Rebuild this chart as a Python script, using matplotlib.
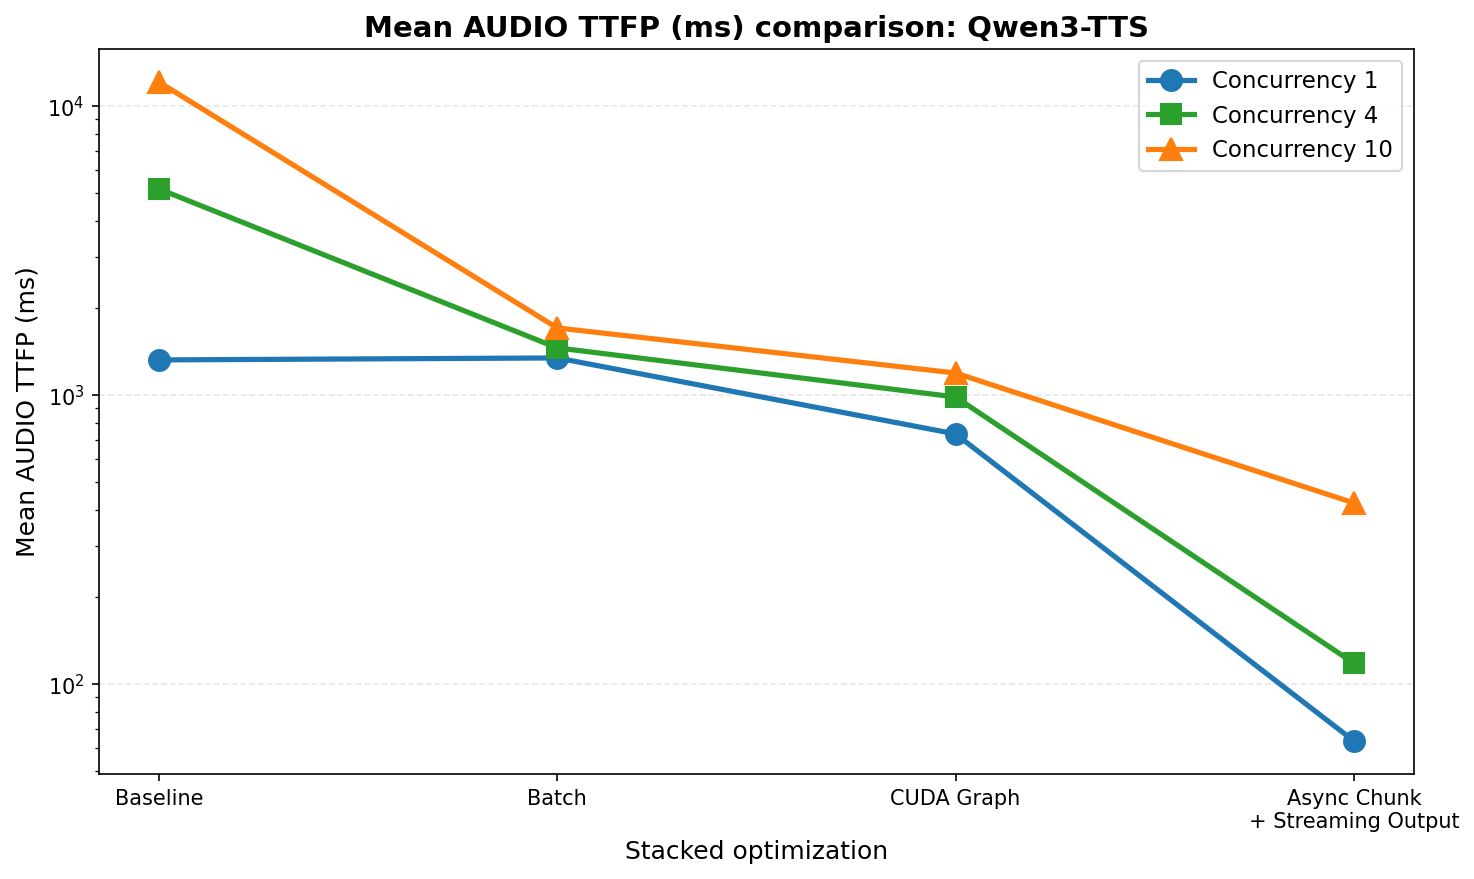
import numpy as np
import matplotlib.pyplot as plt

# ── datos ────────────────────────────────────────────
stages = ["Baseline", "Batch", "CUDA Graph", "Async Chunk\n+ Streaming Output"]

ttfp_c1 = [1322, 1343, 733, 63.5]
ttfp_c4 = [5164, 1455, 984, 118]
ttfp_c10 = [12100, 1706, 1191, 423]

x = np.arange(len(stages))

fig, ax = plt.subplots(figsize=(10, 6))

ax.plot(x, ttfp_c1, marker="o", color="#1f77b4", linewidth=2.5, markersize=10, label="Concurrency 1")
ax.plot(x, ttfp_c4, marker="s", color="#2ca02c", linewidth=2.5, markersize=10, label="Concurrency 4")
ax.plot(x, ttfp_c10, marker="^", color="#ff7f0e", linewidth=2.5, markersize=11, label="Concurrency 10")

ax.set_yscale("log")
ax.set_xticks(x)
ax.set_xticklabels(stages, fontsize=10)
ax.set_xlabel("Stacked optimization", fontsize=12)
ax.set_ylabel("Mean AUDIO TTFP (ms)", fontsize=12)
ax.set_title("Mean AUDIO TTFP (ms) comparison: Qwen3-TTS", fontsize=14, fontweight="bold")
ax.grid(True, which="major", axis="y", linestyle="--", alpha=0.3)
ax.legend(fontsize=11)

plt.tight_layout()
plt.savefig("out.png", dpi=150, bbox_inches="tight")
